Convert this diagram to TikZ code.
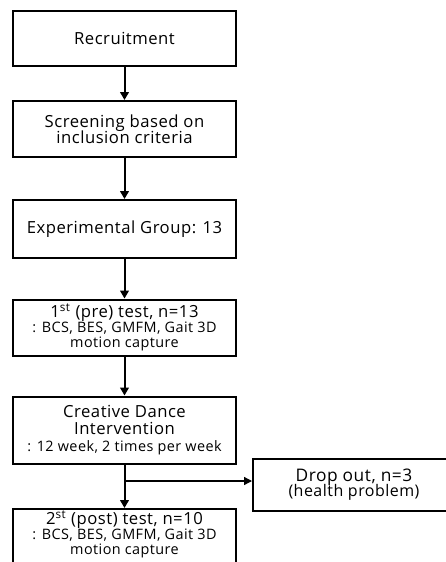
\documentclass[tikz,border=0pt]{standalone}
\usepackage{fontspec}
\setmainfont{Open Sans}[LetterSpace=3]
\usetikzlibrary{arrows.meta}
\lineskiplimit=-20pt
\newcommand{\bigtxt}{\fontsize{12.5}{12}\selectfont}
\newcommand{\smalltxt}{\fontsize{10.8}{11.5}\selectfont}
\tikzset{
  flowbox/.style={draw=black, line width=1.5pt, fill=white, align=center,
    minimum width=167.25pt, inner sep=0pt, font=\bigtxt},
  sidebox/.style={draw=black, line width=1.5pt, fill=white, align=center,
    inner sep=0pt, font=\fontsize{13}{11}\selectfont},
  boxtext/.style={align=center, inner sep=0pt, font=\bigtxt},
  flowarrow/.style={line width=1.5pt, -{Triangle[length=6pt,width=6.5pt]}},
  thinarrow/.style={line width=1pt, -{Triangle[length=6pt,width=6pt]}}
}
\begin{document}
\begin{tikzpicture}[x=0.75pt,y=-0.75pt]
  \useasboundingbox (0,0) rectangle (446,562);
  \fill[white] (0,0) rectangle (446,562);
  \clip (0,0) rectangle (446,562);

  % main column
  \node[flowbox, minimum height=41.25pt] (recruit) at (124.5,38.5) {Recruitment};
  \node[flowbox, minimum height=42pt] (screen) at (124.5,129)
    {Screening based on\\inclusion criteria};
  \node[flowbox, minimum height=43.5pt] (group) at (124.5,229)
    {Experimental Group: 13};
  \node[flowbox, minimum height=42pt, font=\fontsize{12.5}{11.5}\selectfont]
    (pretest) at (124.5,327.5)
    {1\textsuperscript{st} (pre) test, n=13\\
     {\smalltxt : BCS, BES, GMFM, Gait 3D}\\
     {\smalltxt motion capture}};
  \node[flowbox, minimum height=50.25pt, font=\fontsize{12.5}{13}\selectfont]
    (dance) at (124.5,430)
    {Creative Dance\\Intervention\\
     {\smalltxt : 12 week, 2 times per week}};
  % last box runs past the lower edge
  \node[flowbox, anchor=north, minimum height=75pt] (posttest) at (124.5,508) {};
  \node[boxtext, font=\fontsize{12.5}{11.25}\selectfont] (posttesttext) at (124.5,534)
    {2\textsuperscript{st} (post) test, n=10\\
     {\smalltxt : BCS, BES, GMFM, Gait 3D}\\
     {\smalltxt motion capture}};

  % side box for drop-outs, running past the right edge
  \node[sidebox, minimum width=151.5pt, minimum height=39pt] (drop) at (354,484.5)
    {Drop out, n=3\\{\fontsize{12}{11}\selectfont (health problem)}};

  % connectors
  \draw[flowarrow] (recruit) -- (screen);
  \draw[flowarrow] (screen) -- (group);
  \draw[flowarrow] (group) -- (pretest);
  \draw[flowarrow] (pretest) -- (dance);
  \draw[flowarrow] (dance) -- (posttest);
  \coordinate (branch) at (124.5,481);
  \draw[thinarrow] (branch) -- (branch -| drop.west);
\end{tikzpicture}
\end{document}
